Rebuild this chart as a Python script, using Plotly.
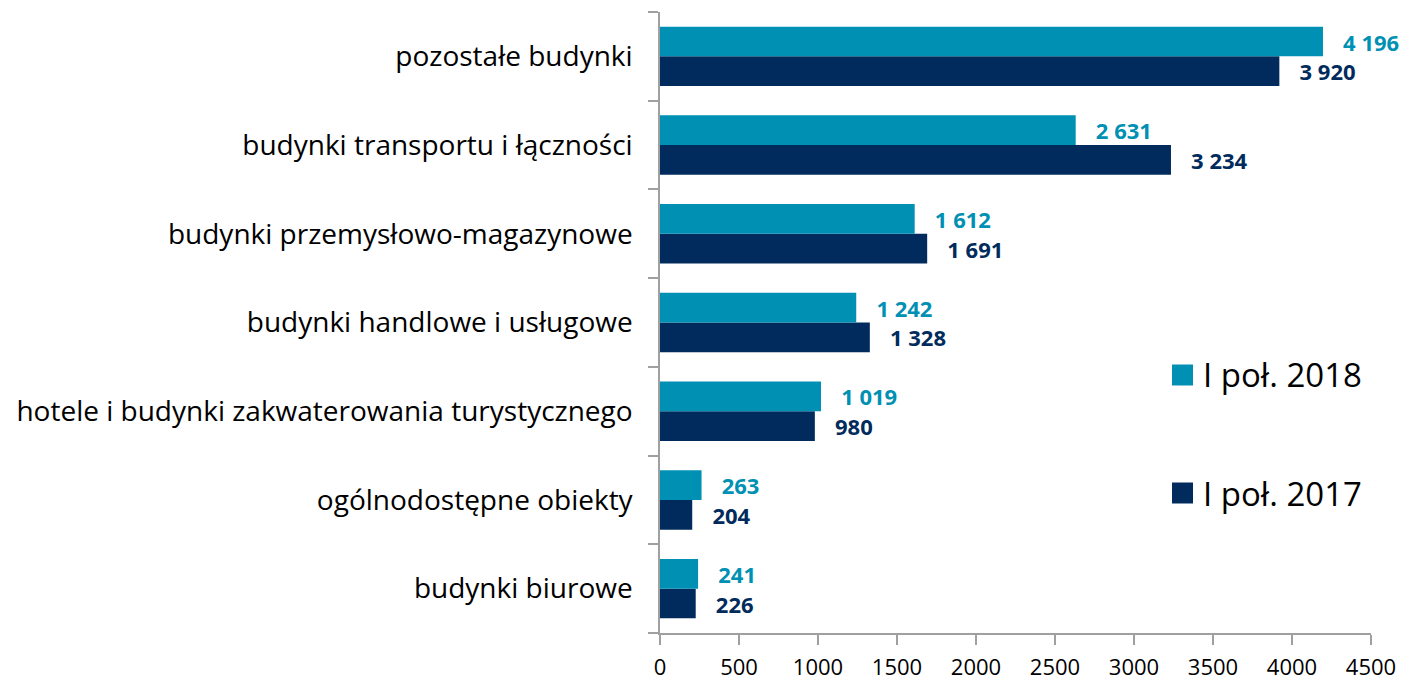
import plotly.graph_objects as go

categories = [
    "budynki biurowe",
    "ogólnodostępne obiekty",
    "hotele i budynki zakwaterowania turystycznego",
    "budynki handlowe i usługowe",
    "budynki przemysłowo-magazynowe",
    "budynki transportu i łączności",
    "pozostałe budynki",
]
values_2018 = [241, 263, 1019, 1242, 1612, 2631, 4196]
values_2017 = [226, 204, 980, 1328, 1691, 3234, 3920]
x_ticks = [0, 500, 1000, 1500, 2000, 2500, 3000, 3500, 4000, 4500]
series_names = ["I poł. 2018", "I poł. 2017"]

TEAL = "#0090B4"
NAVY = "#002B5C"
FONT = "Open Sans"

def fmt(v):
    return "\u00a0\u00a0\u00a0" + f"{v:,}".replace(",", "\u00a0")

fig = go.Figure()
fig.add_trace(go.Bar(
    y=categories, x=values_2017, orientation="h", name=series_names[1],
    marker=dict(color=NAVY, line=dict(width=0)),
    text=[fmt(v) for v in values_2017], textposition="outside",
    textfont=dict(family=FONT, size=22, color=NAVY, weight="bold"),
    constraintext="none", cliponaxis=False, showlegend=False,
))
fig.add_trace(go.Bar(
    y=categories, x=values_2018, orientation="h", name=series_names[0],
    marker=dict(color=TEAL, line=dict(width=0)),
    text=[fmt(v) for v in values_2018], textposition="outside",
    textfont=dict(family=FONT, size=22, color=TEAL, weight="bold"),
    constraintext="none", cliponaxis=False, showlegend=False,
))

# manual legend (large square swatches)
legend_items = [(series_names[0], TEAL, 375), (series_names[1], NAVY, 493)]
shapes = []
annotations = []
for name, col, yc in legend_items:
    shapes.append(dict(type="rect", xref="paper", yref="paper",
                       x0=(1172 - 660) / 711, x1=(1193 - 660) / 711,
                       y0=(633 - (yc + 10.5)) / 621, y1=(633 - (yc - 10.5)) / 621,
                       fillcolor=col, line=dict(width=0)))
    annotations.append(dict(xref="paper", yref="paper",
                            x=(1201 - 660) / 711, y=(633 - yc) / 621,
                            xanchor="left", yanchor="middle", showarrow=False,
                            text=name, font=dict(family=FONT, size=33, color="black")))

fig.update_layout(
    width=1414, height=680,
    margin=dict(l=660, r=43, t=12, b=47, autoexpand=False),
    paper_bgcolor="white", plot_bgcolor="white",
    barmode="group", bargap=0.33, bargroupgap=0,
    font=dict(family=FONT, color="black"),
    showlegend=False, shapes=shapes, annotations=annotations,
)
fig.update_xaxes(
    range=[0, 4500], tickvals=x_ticks, ticktext=[str(t) for t in x_ticks],
    showgrid=False, zeroline=False, automargin=False,
    showline=True, linecolor="#A0A0A0", linewidth=1.5,
    ticks="outside", ticklen=10, tickcolor="#A0A0A0", tickwidth=1.5,
    tickfont=dict(family=FONT, size=22, color="black"),
    ticklabelstandoff=4,
)
fig.update_yaxes(
    type="category", categoryorder="array", categoryarray=categories,
    showgrid=False, zeroline=False, automargin=False,
    showline=True, linecolor="#A0A0A0", linewidth=1.5,
    ticks="outside", tickson="boundaries", ticklen=10, tickcolor="#A0A0A0", tickwidth=1.5,
    tickfont=dict(family=FONT, size=28, color="black"),
    ticklabelstandoff=20,
)

fig.write_html("out.html")
